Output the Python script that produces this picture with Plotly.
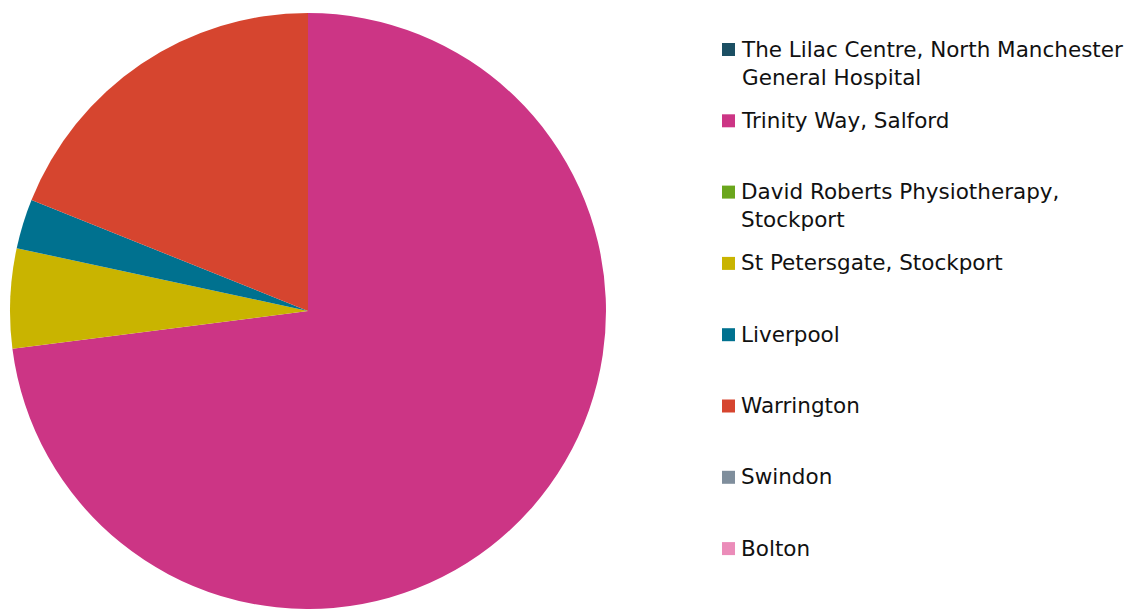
import plotly.graph_objects as go

W, H = 1127, 609

labels = [
    "The Lilac Centre, North Manchester General Hospital",
    "Trinity Way, Salford",
    "David Roberts Physiotherapy, Stockport",
    "St Petersgate, Stockport",
    "Liverpool",
    "Warrington",
    "Swindon",
    "Bolton",
]
legend_text = [
    "The Lilac Centre, North Manchester<br>General Hospital",
    "Trinity Way, Salford",
    "David Roberts Physiotherapy,<br>Stockport",
    "St Petersgate, Stockport",
    "Liverpool",
    "Warrington",
    "Swindon",
    "Bolton",
]
values = [0, 27, 0, 2, 1, 7, 0, 0]
colors = ["#1b4f63", "#cc3585", "#6aa61c", "#c9b400",
          "#00718f", "#d6452f", "#7f8e9c", "#eb8cb9"]

fig = go.Figure(go.Pie(
    labels=labels,
    values=values,
    sort=False,
    direction="clockwise",
    rotation=0,
    marker=dict(colors=colors, line=dict(width=0)),
    textinfo="none",
    hoverinfo="label+value+percent",
    showlegend=False,
    domain=dict(x=[9 / W, 607 / W], y=[0, 596 / H]),
))

# Hand-built legend: colour swatch plus label, evenly spaced down the right side
first_y, step = 49.5, 71.3
shapes, annotations = [], []
for i, (txt, col) in enumerate(zip(legend_text, colors)):
    cy = first_y + i * step
    shapes.append(dict(
        type="rect", xref="paper", yref="paper",
        x0=722 / W, x1=735 / W, y0=1 - (cy - 6.5) / H, y1=1 - (cy + 6.5) / H,
        fillcolor=col, line=dict(width=0),
    ))
    annotations.append(dict(
        text=txt, xref="paper", yref="paper",
        x=739 / W, y=1 - (cy - 15) / H, xanchor="left", yanchor="top",
        align="left", showarrow=False,
        font=dict(family="DejaVu Sans", size=21.5, color="#111111"),
    ))

fig.update_layout(
    width=W, height=H,
    margin=dict(l=0, r=0, t=0, b=0),
    paper_bgcolor="white",
    plot_bgcolor="white",
    shapes=shapes,
    annotations=annotations,
)

fig.write_html("out.html")
